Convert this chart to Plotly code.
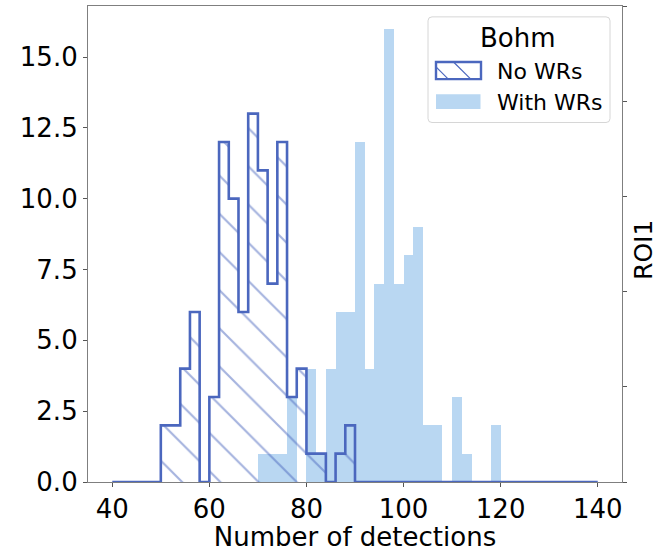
import plotly.graph_objects as go

# Histogram binning: 2-detection-wide bins from 40 to 140
bin_start = 40
bin_width = 2

# Counts per bin (bin left edges 40, 42, ..., 138)
no_wrs_counts = [
    0, 0, 0, 0, 0,      # 40-48
    2, 2, 4, 6, 0,      # 50-58
    3, 12, 10, 6, 13,   # 60-68
    11, 7, 12, 3, 4,    # 70-78
    1, 1, 0, 1, 2,      # 80-88
    0, 0, 0, 0, 0,      # 90-98
    0, 0, 0, 0, 0,      # 100-108
    0, 0, 0, 0, 0,      # 110-118
    0, 0, 0, 0, 0,      # 120-128
    0, 0, 0, 0, 0,      # 130-138
]
with_wrs_counts = [
    0, 0, 0, 0, 0,      # 40-48
    0, 0, 0, 0, 0,      # 50-58
    0, 0, 0, 0, 0,      # 60-68
    1, 1, 1, 3, 0,      # 70-78
    4, 1, 4, 6, 6,      # 80-88
    12, 4, 7, 16, 7,    # 90-98
    8, 9, 2, 2, 0,      # 100-108
    3, 1, 0, 0, 2,      # 110-118
    0, 0, 0, 0, 0,      # 120-128
    0, 0, 0, 0, 0,      # 130-138
]

x_ticks = [40, 60, 80, 100, 120, 140]
y_ticks = [0, 2.5, 5, 7.5, 10, 12.5, 15]

legend_title = "Bohm"
label_no = "No WRs"
label_with = "With WRs"
row_title = "ROI1"
x_title = "Number of detections"

n_bins = len(no_wrs_counts)
edges = [bin_start + bin_width * i for i in range(n_bins + 1)]
centers = [e + bin_width / 2 for e in edges[:-1]]

BLUE = "#4b67be"
LIGHT = "#b9d7f2"
SPINE = "#7f7f7f"
FONT = "DejaVu Sans"

fig = go.Figure()

# Filled histogram
fig.add_trace(go.Bar(
    x=centers, y=with_wrs_counts, width=bin_width,
    marker=dict(color=LIGHT, line=dict(width=0)),
    showlegend=False, hoverinfo="skip",
))

# Hatched fill under the step histogram
fig.add_trace(go.Bar(
    x=centers, y=no_wrs_counts, width=bin_width,
    marker=dict(
        color="rgba(0,0,0,0)", line=dict(width=0),
        pattern=dict(shape="\\", fgcolor=BLUE, bgcolor="rgba(0,0,0,0)",
                     size=27, solidity=0.08),
    ),
    showlegend=False, hoverinfo="skip",
))

# Step outline of the same histogram
step_x = [edges[0]] + edges[:-1] + [edges[-1]]
step_y = [0] + no_wrs_counts + [0]
fig.add_trace(go.Scatter(
    x=step_x, y=step_y, mode="lines",
    line=dict(color=BLUE, width=2.6, shape="hv"),
    showlegend=False, hoverinfo="skip",
))

# Empty trace carrying the right-hand axis
fig.add_trace(go.Scatter(x=[None], y=[None], yaxis="y2", showlegend=False,
                         hoverinfo="skip"))

# Geometry of the plotting area in pixels, for legend placement
L, R, T, B = 88, 37, 5, 65
W, H = 659, 552
pw, ph = W - L - R, H - T - B


def px(x):
    return (x - L) / pw


def py(y):
    return (H - B - y) / ph


axis_common = dict(
    showgrid=False, zeroline=False, showline=True, linecolor=SPINE,
    linewidth=1.2, ticks="outside", ticklen=4, tickwidth=1.2,
    tickcolor="#555555", tickfont=dict(size=26, color="black", family=FONT),
)

fig.update_layout(
    width=W, height=H,
    margin=dict(l=L, r=R, t=T, b=B),
    paper_bgcolor="white", plot_bgcolor="white",
    barmode="overlay", bargap=0, showlegend=False,
    font=dict(family=FONT, color="black"),
    xaxis=dict(
        range=[35, 145], tickmode="array", tickvals=x_ticks, mirror=True,
        title=dict(text=x_title, font=dict(size=26, family=FONT), standoff=5),
        **axis_common,
    ),
    yaxis=dict(
        range=[0, 16.8], tickmode="array", tickvals=y_ticks, tickformat=".1f",
        **axis_common,
    ),
    yaxis2=dict(
        overlaying="y", side="right", range=[0, 1], tickmode="array",
        tickvals=[0, 0.2, 0.4, 0.6, 0.8, 1.0], showticklabels=False,
        **{k: v for k, v in axis_common.items() if k != "tickfont"},
    ),
)

shapes = []
annotations = []

# Legend frame with rounded corners
x0, x1, y0, y1, r = 428, 610, 16, 123, 4
rx, ry = r / pw, r / ph
path = (
    f"M {px(x0) + rx},{py(y0)} L {px(x1) - rx},{py(y0)} "
    f"Q {px(x1)},{py(y0)} {px(x1)},{py(y0) - ry} "
    f"L {px(x1)},{py(y1) + ry} "
    f"Q {px(x1)},{py(y1)} {px(x1) - rx},{py(y1)} "
    f"L {px(x0) + rx},{py(y1)} "
    f"Q {px(x0)},{py(y1)} {px(x0)},{py(y1) + ry} "
    f"L {px(x0)},{py(y0) - ry} "
    f"Q {px(x0)},{py(y0)} {px(x0) + rx},{py(y0)} Z"
)
shapes.append(dict(type="path", xref="paper", yref="paper", path=path,
                   line=dict(color="#d6d6d6", width=1),
                   fillcolor="rgba(255,255,255,0.85)", layer="above"))

# Hatched swatch
shapes.append(dict(type="line", xref="paper", yref="paper",
                   x0=px(436), y0=py(66.7), x1=px(448.3), y1=py(79),
                   line=dict(color=BLUE, width=1.2), layer="above"))
shapes.append(dict(type="line", xref="paper", yref="paper",
                   x0=px(453.5), y0=py(61.7), x1=px(470.8), y1=py(79),
                   line=dict(color=BLUE, width=1.2), layer="above"))
shapes.append(dict(type="rect", xref="paper", yref="paper",
                   x0=px(436), y0=py(79), x1=px(481), y1=py(61.7),
                   line=dict(color=BLUE, width=2.4), layer="above"))
# Filled swatch
shapes.append(dict(type="rect", xref="paper", yref="paper",
                   x0=px(436), y0=py(109.3), x1=px(480.5), y1=py(94.3),
                   line=dict(width=0), fillcolor=LIGHT, layer="above"))

annotations.append(dict(text=legend_title, xref="paper", yref="paper",
                        x=px(518), y=py(37), xanchor="center", yanchor="middle",
                        showarrow=False, font=dict(size=26, family=FONT)))
annotations.append(dict(text=label_no, xref="paper", yref="paper",
                        x=px(495), y=py(71), xanchor="left", yanchor="middle",
                        showarrow=False, font=dict(size=22, family=FONT)))
annotations.append(dict(text=label_with, xref="paper", yref="paper",
                        x=px(495), y=py(103), xanchor="left", yanchor="middle",
                        showarrow=False, font=dict(size=22, family=FONT)))

# Row title on the right-hand side
annotations.append(dict(text=row_title, xref="paper", yref="paper",
                        x=px(644), y=py(252), xanchor="center", yanchor="middle",
                        textangle=-90, showarrow=False, borderpad=0,
                        font=dict(size=25, family=FONT)))

fig.update_layout(shapes=shapes, annotations=annotations)

fig.write_html("out.html")
